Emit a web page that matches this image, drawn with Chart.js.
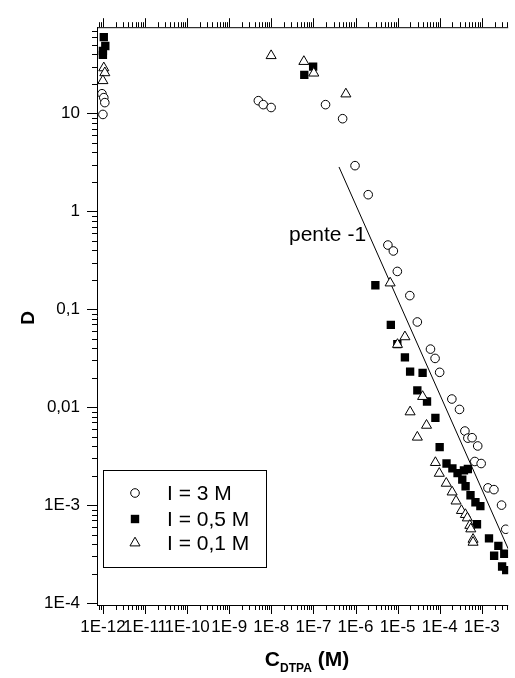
<!DOCTYPE html>
<html><head><meta charset="utf-8">
<script src="https://cdn.jsdelivr.net/npm/chart.js@4.4.1/dist/chart.umd.min.js"></script>
<style>html,body{margin:0;padding:0;background:#fff}#wrap{width:515px;height:678px;position:relative}</style>
</head><body><div id="wrap"><canvas id="c" width="515" height="678"></canvas></div>
<script>
// ---- data ----
const seriesNames = ['I = 3 M', 'I = 0,5 M', 'I = 0,1 M'];

const c3M = [9.5e-13, 1.05e-12, 1.11e-12, 1.0e-12, 4.92e-9, 6.43e-9, 9.9e-9, 1.94e-7, 4.94e-7,
  9.73e-7, 2.0e-6, 5.87e-6, 7.92e-6, 9.84e-6, 1.95e-5, 2.94e-5, 6.03e-5, 7.76e-5, 9.96e-5,
  1.94e-4, 2.95e-4, 3.96e-4, 4.66e-4, 5.87e-4, 7.98e-4, 6.80e-4, 9.64e-4, 1.40e-3, 1.94e-3, 2.94e-3, 3.70e-3];
const d3M = [15.9, 14.5, 12.9, 9.77, 13.5, 12.3, 11.5, 12.3, 8.84,
  2.93, 1.48, 0.453, 0.394, 0.2436, 0.1379, 0.0742, 0.0392, 0.0315, 0.0227,
  0.01212, 0.00949, 0.00571, 0.00483, 0.00488, 0.00402, 0.00279, 0.00266, 0.00150, 0.00144, 0.00100, 0.000567];

const c05M = [1.05e-12, 1.14e-12, 1.0e-12, 1.0e-12, 6.07e-8, 9.84e-8, 2.96e-6, 6.90e-6, 9.84e-6,
  1.49e-5, 1.98e-5, 3.92e-5, 2.94e-5, 4.99e-5, 7.89e-5, 9.96e-5, 1.45e-4, 2.00e-4, 2.65e-4,
  3.76e-4, 4.66e-4, 3.43e-4, 4.11e-4, 5.38e-4, 7.05e-4, 9.23e-4, 7.67e-4, 1.48e-3, 2.47e-3,
  3.41e-3, 1.96e-3, 3.03e-3, 3.79e-3];
const d05M = [60.2, 48.8, 43.5, 39.6, 24.8, 30.1, 0.176, 0.0692, 0.0440,
  0.0323, 0.0231, 0.0224, 0.01485, 0.01143, 0.00778, 0.00391, 0.00266, 0.00237, 0.00212,
  0.00226, 0.00234, 0.00182, 0.00156, 0.00126, 0.00107, 0.000977, 0.000638, 0.000458, 0.000384,
  0.000319, 0.000304, 0.000236, 0.000217];

const c01M = [1.05e-12, 1.11e-12, 1.0e-12, 9.9e-9, 5.93e-8, 1.02e-7, 5.90e-7, 6.64e-6, 1.49e-5,
  9.93e-6, 3.92e-5, 1.98e-5, 4.86e-5, 2.94e-5, 7.89e-5, 9.77e-5, 1.43e-4, 1.97e-4, 2.44e-4,
  3.28e-4, 4.07e-4, 4.53e-4, 5.19e-4, 5.47e-4, 6.19e-4, 6.19e-4];
const d01M = [29.2, 26.0, 21.6, 38.9, 33.9, 25.8, 15.8, 0.1855, 0.0523,
  0.0437, 0.01285, 0.00895, 0.00653, 0.00494, 0.00272, 0.00211, 0.00167, 0.00136, 0.00110,
  0.000880, 0.000801, 0.000739, 0.000620, 0.000571, 0.000447, 0.000417];

// slope -1 guide line end points
const slopeLineC = [4.05e-7, 4.23e-3];
const slopeLineD = [2.84, 3.58e-4];
const slopeLabel = 'pente -1';

const xTickValues = [1e-12, 1e-11, 1e-10, 1e-9, 1e-8, 1e-7, 1e-6, 1e-5, 1e-4, 1e-3];
const xTickLabels = ['1E-12', '1E-11', '1E-10', '1E-9', '1E-8', '1E-7', '1E-6', '1E-5', '1E-4', '1E-3'];
const yTickValues = [1e-4, 1e-3, 1e-2, 1e-1, 1, 10];
const yTickLabels = ['1E-4', '1E-3', '0,01', '0,1', '1', '10'];

const xTitleMain = 'C', xTitleSub = 'DTPA', xTitleEnd = ' (M)';
const yTitle = 'D';

const X_MIN = 7.24e-13, X_MAX = 4.23e-3, Y_MIN = 9.55e-5, Y_MAX = 76;

// ---- chart ----
const FONT = '"Liberation Sans", Arial, sans-serif';
const pts = (xs, ys) => xs.map((x, i) => ({ x: x, y: ys[i] }));

function niceTicks(values, labels) {
  return function (scale) {
    scale.ticks = values.map((v, i) => ({ value: v, label: labels[i], major: true }));
  };
}

const axesPlugin = {
  id: 'axesPlugin',
  afterDraw(chart) {
    const ctx = chart.ctx, a = chart.chartArea;
    const xs = chart.scales.x, ys = chart.scales.y;
    ctx.save();
    ctx.strokeStyle = '#000';
    ctx.lineWidth = 1;
    ctx.beginPath();
    ctx.moveTo(a.left + 0.5, a.top); ctx.lineTo(a.left + 0.5, a.bottom + 1);
    ctx.moveTo(a.left, a.bottom + 0.5); ctx.lineTo(a.right, a.bottom + 0.5);
    ctx.moveTo(a.left, a.top + 0.5); ctx.lineTo(a.right, a.top + 0.5);
    for (let e = -13; e <= -2; e++) {
      for (let m = 1; m <= 9; m++) {
        const v = m * Math.pow(10, e);
        if (v < X_MIN || v > X_MAX) continue;
        const px = Math.round(xs.getPixelForValue(v)) + 0.5;
        const len = m === 1 ? 9 : 5;
        ctx.moveTo(px, a.bottom); ctx.lineTo(px, a.bottom + len);
        ctx.moveTo(px, a.top); ctx.lineTo(px, a.top - len);
      }
    }
    for (let e = -5; e <= 2; e++) {
      for (let m = 1; m <= 9; m++) {
        const v = m * Math.pow(10, e);
        if (v < Y_MIN || v > Y_MAX) continue;
        const py = Math.round(ys.getPixelForValue(v)) + 0.5;
        const len = m === 1 ? 10 : 5;
        ctx.moveTo(a.left, py); ctx.lineTo(a.left - len, py);
      }
    }
    ctx.stroke();

    ctx.fillStyle = '#000';
    ctx.textBaseline = 'alphabetic';
    ctx.font = 'bold 21px ' + FONT;
    const wC = ctx.measureText(xTitleMain).width;
    const wE = ctx.measureText(xTitleEnd).width;
    ctx.font = 'bold 12px ' + FONT;
    const wS = ctx.measureText(xTitleSub).width;
    let tx = 307 - (wC + wS + wE) / 2;
    ctx.font = 'bold 21px ' + FONT;
    ctx.textAlign = 'left';
    ctx.fillText(xTitleMain, tx, 666);
    ctx.font = 'bold 12px ' + FONT;
    ctx.fillText(xTitleSub, tx + wC, 672);
    ctx.font = 'bold 21px ' + FONT;
    ctx.fillText(xTitleEnd, tx + wC + wS, 666);

    ctx.save();
    ctx.translate(34, 318);
    ctx.rotate(-Math.PI / 2);
    ctx.font = 'bold 19px ' + FONT;
    ctx.textAlign = 'center';
    ctx.fillText(yTitle, 0, 0);
    ctx.restore();

    ctx.font = '21px ' + FONT;
    ctx.textAlign = 'left';
    ctx.fillText(slopeLabel, 289, 241);

    const bx = 103.5, by = 470.5, bw = 163, bh = 97;
    ctx.fillStyle = '#fff';
    ctx.fillRect(bx, by, bw, bh);
    ctx.strokeRect(bx, by, bw, bh);
    const rows = [493, 519, 543];
    const mx = 135;
    ctx.lineWidth = 1;
    ctx.beginPath(); ctx.arc(mx, rows[0], 4.3, 0, Math.PI * 2);
    ctx.fillStyle = '#fff'; ctx.fill(); ctx.strokeStyle = '#000'; ctx.stroke();
    ctx.fillStyle = '#000'; ctx.fillRect(mx - 4.2, rows[1] - 4.2, 8.4, 8.4);
    const r = 5.8;
    ctx.beginPath();
    ctx.moveTo(mx, rows[2] - r);
    ctx.lineTo(mx + r * Math.sin(Math.PI * 2 / 3), rows[2] - r * Math.cos(Math.PI * 2 / 3));
    ctx.lineTo(mx - r * Math.sin(Math.PI * 2 / 3), rows[2] - r * Math.cos(Math.PI * 2 / 3));
    ctx.closePath(); ctx.fillStyle = '#fff'; ctx.fill(); ctx.stroke();
    ctx.fillStyle = '#000';
    ctx.font = '21px ' + FONT;
    ctx.textBaseline = 'middle';
    seriesNames.forEach((n, i) => ctx.fillText(n, 167, rows[i] + 1));
    ctx.restore();
  }
};

new Chart(document.getElementById('c'), {
  type: 'scatter',
  data: {
    datasets: [
      { label: seriesNames[0], data: pts(c3M, d3M), pointStyle: 'circle', pointRadius: 4.3,
        pointBorderWidth: 1, borderColor: '#000', backgroundColor: '#fff', order: 2 },
      { label: seriesNames[1], data: pts(c05M, d05M), pointStyle: 'rect', pointRadius: 5.9,
        pointBorderWidth: 0, borderColor: '#000', backgroundColor: '#000', order: 1 },
      { label: seriesNames[2], data: pts(c01M, d01M), pointStyle: 'triangle', pointRadius: 5.8,
        pointBorderWidth: 1, borderColor: '#000', backgroundColor: '#fff', order: 0 },
      { type: 'line', label: slopeLabel, data: pts(slopeLineC, slopeLineD), showLine: true,
        pointRadius: 0, borderWidth: 1, borderColor: '#000', fill: false, order: 3 }
    ]
  },
  options: {
    responsive: false,
    animation: false,
    devicePixelRatio: 1,
    layout: { padding: { top: 22, right: 0, left: 0, bottom: 0 } },
    plugins: { legend: { display: false }, tooltip: { enabled: false }, title: { display: false } },
    elements: { point: { hoverRadius: 0 } },
    scales: {
      x: {
        type: 'logarithmic', position: 'bottom', min: X_MIN, max: X_MAX,
        afterBuildTicks: niceTicks(xTickValues, xTickLabels),
        afterFit(s) { s.height = 73; },
        grid: { display: false, drawTicks: false },
        border: { display: false },
        ticks: { color: '#000', padding: 12, maxRotation: 0, autoSkip: false,
          font: { family: FONT, size: 17 },
          callback: (v) => { const i = xTickValues.indexOf(v); return i >= 0 ? xTickLabels[i] : ''; } }
      },
      y: {
        type: 'logarithmic', position: 'left', min: Y_MIN, max: Y_MAX,
        afterBuildTicks: niceTicks(yTickValues, yTickLabels),
        afterFit(s) { s.width = 97; },
        grid: { display: false, drawTicks: false },
        border: { display: false },
        ticks: { color: '#000', padding: 17, autoSkip: false,
          font: { family: FONT, size: 17 },
          callback: (v) => { const i = yTickValues.indexOf(v); return i >= 0 ? yTickLabels[i] : ''; } }
      }
    }
  },
  plugins: [axesPlugin]
});
</script>
</body></html>
